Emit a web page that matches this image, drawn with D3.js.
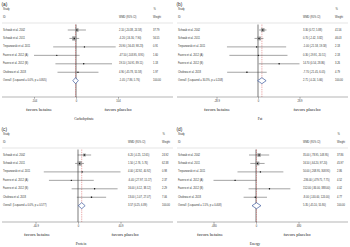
<!DOCTYPE html>
<html>
<head>
<meta charset="utf-8">
<script src="https://cdn.jsdelivr.net/npm/d3@7"></script>
<style>
  html, body { margin: 0; padding: 0; background: #fff; }
  svg { display: block; }
</style>
</head>
<body>
<div id="chart"></div>
<script>
const studies = [
  "Schwab et al. 2002",
  "Schwab et al. 2011",
  "Trepanowski et al. 2011",
  "Favero et al. 2012 (A)",
  "Favero et al. 2012 (B)",
  "Cholewa et al. 2018"
]

// CARBOHYDRATE
const carbWmd = [2.10, -4.20, 20.90, -47.50, 19.10, 4.90]
const carbLow = [-20.38, -16.30, -56.43, -103.95, -50.91, -45.78]
const carbHigh = [24.58, 7.90, 98.23, 8.95, 89.11, 55.58]
const carbWeight = [37.79, 56.55, 0.91, 1.60, 1.18, 1.97]
const carbOverall = [-1.05, -7.86, 5.76]
const carbHet = "Overall  (I-squared = 0.0%, p = 0.805)"
const carbTicks = [-103.95, 0, 103.95]
const carbTickLabels = ["-104", "0", "104"]

// FAT
const fatWmd = [3.30, 0.70, -1.00, 0.30, 14.70, -7.70]
const fatLow = [0.72, -2.42, -21.58, -19.91, 0.54, -21.45]
const fatHigh = [5.88, 3.82, 19.58, 20.51, 28.86, 6.05]
const fatWeight = [41.56, 46.03, 2.18, 2.18, 3.26, 4.79]
const fatOverall = [2.71, -0.24, 5.66]
const fatHet = "Overall  (I-squared = 30.3%, p = 0.208)"
const fatTicks = [-28.86, 0, 28.86]
const fatTickLabels = ["-28.9", "0", "28.9"]

// PROTEIN
const protWmd = [6.20, 1.50, 4.00, -6.40, 16.00, 13.00]
const protLow = [-0.25, -2.76, -32.92, -27.97, -6.12, -1.07]
const protHigh = [12.65, 5.76, 40.92, 15.17, 38.12, 27.07]
const protWeight = [24.92, 62.38, 0.98, 2.37, 2.29, 7.06]
const protOverall = [3.57, 0.25, 6.89]
const protHet = "Overall  (I-squared = 0.0%, p = 0.577)"
const protTicks = [-40.92, 0, 40.92]
const protTickLabels = ["-40.9", "0", "40.9"]

// ENERGY
const enWmd = [35.00, 16.50, 50.00, -236.00, 152.00, -8.00]
const enLow = [-78.95, -64.20, -208.95, -479.75, -84.00, -140.00]
const enHigh = [148.95, 97.20, 308.95, 7.75, 388.00, 124.00]
const enWeight = [37.86, 45.97, 2.86, 4.52, 4.02, 4.77]
const enOverall = [5.35, -45.10, 55.80]
const enHet = "Overall  (I-squared = 1.5%, p = 0.408)"
const enTicks = [-479.75, 0, 479.75]
const enTickLabels = ["-480", "0", "480"]

const W = 350, H = 247
const sans = "'Liberation Sans', Arial, sans-serif"
const serif = "'Liberation Serif', 'Times New Roman', serif"

const svg = d3.select("#chart").append("svg")
  .attr("width", W)
  .attr("height", H)

svg.append("rect").attr("width", W).attr("height", H).attr("fill", "#fff")

function forest(cfg) {
  const g = svg.append("g")
    .attr("transform", "translate(" + cfg.left + "," + cfg.top + ")")

  const x = d3.scaleLinear()
    .domain([cfg.ticks[0], cfg.ticks[2]])
    .range([cfg.zero - cfg.half, cfg.zero + cfg.half])

  const y = d3.scaleLinear()
    .domain([0, 6])
    .range([30, 80.7])

  const rows = studies.map((s, i) => ({
    name: s, est: cfg.est[i], lo: cfg.lo[i], hi: cfg.hi[i], w: cfg.w[i], i: i
  }))

  // PANEL LABEL + HEADER
  g.append("text").attr("x", 1.5).attr("y", 4.5)
    .attr("dominant-baseline", "central")
    .style("font-family", sans).style("font-size", "4.8px").attr("fill", "#222")
    .text(cfg.label)

  const head = [
    [3, 9.5, "Study"], [3, 17, "ID"], [cfg.wmdX, 17, "WMD (95% CI)"],
    [cfg.wX + 0.5, 9.5, "%"], [cfg.wX, 17, "Weight"]
  ]
  g.selectAll(".head").data(head).enter().append("text")
    .attr("x", d => d[0]).attr("y", d => d[1])
    .attr("dominant-baseline", "central")
    .style("font-family", sans).style("font-size", "2.6px").attr("fill", "#333")
    .text(d => d[2])

  g.append("line").attr("x1", 2).attr("x2", 173).attr("y1", 23).attr("y2", 23)
    .attr("stroke", "#bbb").attr("stroke-width", 0.4)

  // NULL LINE + OVERALL DASHED LINE
  g.append("line").attr("x1", x(0)).attr("x2", x(0)).attr("y1", 24.5).attr("y2", cfg.axisY)
    .attr("stroke", "#222").attr("stroke-width", 0.6)

  g.append("line").attr("x1", x(cfg.overall[0])).attr("x2", x(cfg.overall[0]))
    .attr("y1", 24.5).attr("y2", cfg.axisY)
    .attr("stroke", "#d24a4a").attr("stroke-width", 0.45).attr("stroke-dasharray", "1.4,0.9")

  // CI LINES
  g.selectAll(".ci").data(rows).enter().append("line")
    .attr("x1", d => x(d.lo)).attr("x2", d => x(d.hi))
    .attr("y1", d => y(d.i)).attr("y2", d => y(d.i))
    .attr("stroke", "#333").attr("stroke-width", 0.45)

  // WEIGHT BOXES
  g.selectAll(".box").data(rows).enter().append("rect")
    .attr("x", d => x(d.est) - 2.8 * Math.sqrt(d.w / 100))
    .attr("y", d => y(d.i) - 2.8 * Math.sqrt(d.w / 100))
    .attr("width", d => 5.6 * Math.sqrt(d.w / 100))
    .attr("height", d => 5.6 * Math.sqrt(d.w / 100))
    .attr("fill", "#9a9a9a")

  g.selectAll(".pt").data(rows).enter().append("circle")
    .attr("cx", d => x(d.est)).attr("cy", d => y(d.i)).attr("r", 0.7)
    .attr("fill", "#111")

  // ROW TEXT
  g.selectAll(".name").data(rows).enter().append("text")
    .attr("x", 3).attr("y", d => y(d.i))
    .attr("dominant-baseline", "central")
    .style("font-family", sans).style("font-size", "2.6px").attr("fill", "#333")
    .text(d => d.name)

  g.selectAll(".wmd").data(rows).enter().append("text")
    .attr("x", cfg.wmdX).attr("y", d => y(d.i))
    .attr("dominant-baseline", "central")
    .style("font-family", sans).style("font-size", "2.6px").attr("fill", "#333")
    .text(d => d.est.toFixed(2) + " (" + d.lo.toFixed(2) + ", " + d.hi.toFixed(2) + ")")

  g.selectAll(".wt").data(rows).enter().append("text")
    .attr("x", cfg.wX).attr("y", d => y(d.i))
    .attr("dominant-baseline", "central")
    .style("font-family", sans).style("font-size", "2.6px").attr("fill", "#333")
    .text(d => d.w.toFixed(2))

  // OVERALL DIAMOND
  const oy = y(6)
  const o = cfg.overall
  g.append("path")
    .attr("d", "M" + x(o[1]) + "," + oy + "L" + x(o[0]) + "," + (oy - 3) +
      "L" + x(o[2]) + "," + oy + "L" + x(o[0]) + "," + (oy + 3) + "Z")
    .attr("fill", "#fff").attr("stroke", "#1f3f8f").attr("stroke-width", 0.6)

  g.append("text").attr("x", 3).attr("y", oy)
    .attr("dominant-baseline", "central")
    .style("font-family", sans).style("font-size", "2.6px").attr("fill", "#333")
    .style("white-space", "pre")
    .text(cfg.het)

  g.append("text").attr("x", cfg.wmdX).attr("y", oy)
    .attr("dominant-baseline", "central")
    .style("font-family", sans).style("font-size", "2.6px").attr("fill", "#333")
    .text(o[0].toFixed(2) + " (" + o[1].toFixed(2) + ", " + o[2].toFixed(2) + ")")

  g.append("text").attr("x", cfg.wX).attr("y", oy)
    .attr("dominant-baseline", "central")
    .style("font-family", sans).style("font-size", "2.6px").attr("fill", "#333")
    .text("100.00")

  // AXIS
  g.append("line").attr("x1", 2).attr("x2", 173).attr("y1", cfg.axisY).attr("y2", cfg.axisY)
    .attr("stroke", "#444").attr("stroke-width", 0.4)

  const ax = g.append("g")
    .attr("transform", "translate(0," + cfg.axisY + ")")
    .call(d3.axisBottom(x).tickValues(cfg.ticks).tickSize(1.8).tickPadding(1)
      .tickFormat((d, i) => cfg.tickLabels[i]))
  ax.select(".domain").remove()
  ax.selectAll("line").attr("stroke", "#444").attr("stroke-width", 0.4)
  ax.selectAll("text").style("font-family", sans).style("font-size", "2.6px").attr("fill", "#333")

  g.append("text").attr("x", cfg.favX[0]).attr("y", cfg.axisY + 12.5)
    .attr("text-anchor", "middle").attr("dominant-baseline", "central")
    .style("font-family", serif).style("font-size", "4.6px").attr("fill", "#222")
    .text("favors betaine")

  g.append("text").attr("x", cfg.favX[1]).attr("y", cfg.axisY + 12.5)
    .attr("text-anchor", "middle").attr("dominant-baseline", "central")
    .style("font-family", serif).style("font-size", "4.6px").attr("fill", "#222")
    .text("favors placebo")

  g.append("text").attr("x", cfg.titleX).attr("y", cfg.axisY + 21.5)
    .attr("text-anchor", "middle").attr("dominant-baseline", "central")
    .style("font-family", serif).style("font-size", "3.6px").attr("fill", "#222")
    .text(cfg.title)
}

forest({ label: "(a)", title: "Carbohydrate", left: 0, top: 0, zero: 76, half: 42,
  wmdX: 119, wX: 153, axisY: 97, favX: [39, 118], titleX: 84,
  est: carbWmd, lo: carbLow, hi: carbHigh, w: carbWeight, overall: carbOverall,
  het: carbHet, ticks: carbTicks, tickLabels: carbTickLabels })

forest({ label: "(b)", title: "Fat", left: 175, top: 0, zero: 83, half: 41.5,
  wmdX: 128, wX: 160, axisY: 97, favX: [42, 132], titleX: 85,
  est: fatWmd, lo: fatLow, hi: fatHigh, w: fatWeight, overall: fatOverall,
  het: fatHet, ticks: fatTicks, tickLabels: fatTickLabels })

forest({ label: "(c)", title: "Protein", left: 0, top: 125, zero: 78, half: 42.5,
  wmdX: 128, wX: 162, axisY: 97, favX: [37, 125], titleX: 81,
  est: protWmd, lo: protLow, hi: protHigh, w: protWeight, overall: protOverall,
  het: protHet, ticks: protTicks, tickLabels: protTickLabels })

forest({ label: "(d)", title: "Energy", left: 175, top: 125, zero: 81, half: 42.5,
  wmdX: 128, wX: 162, axisY: 97, favX: [35, 122], titleX: 80,
  est: enWmd, lo: enLow, hi: enHigh, w: enWeight, overall: enOverall,
  het: enHet, ticks: enTicks, tickLabels: enTickLabels })
</script>
</body>
</html>
